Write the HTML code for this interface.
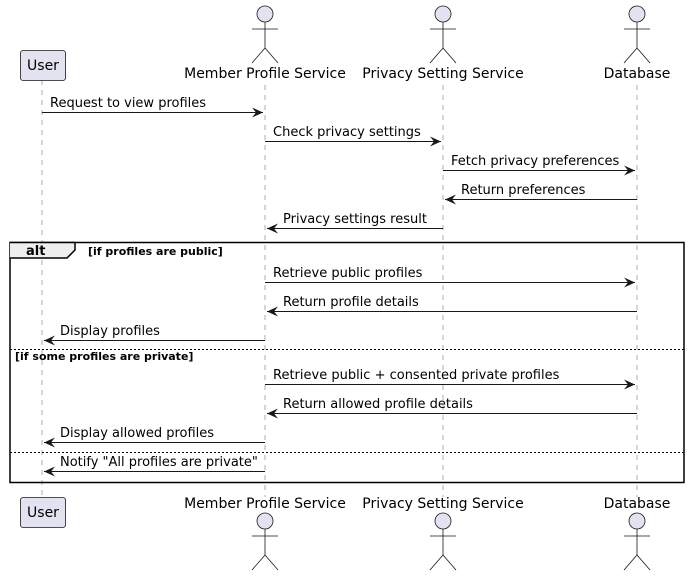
<!DOCTYPE html>
<html><head><meta charset="utf-8"><style>
html,body{margin:0;padding:0;background:#fff;}
svg{display:block;}
text{font-family:"DejaVu Sans","Liberation Sans",sans-serif;}
</style></head><body>
<svg width="689" height="578" viewBox="0 0 689 578" xmlns="http://www.w3.org/2000/svg">
<defs>
<marker id="a" viewBox="0 0 12 10" refX="11" refY="5" markerWidth="12" markerHeight="10" markerUnits="userSpaceOnUse" orient="auto">
<path d="M0,0 L11,5 L0,10 L4,5 Z" fill="#181818"/>
</marker>
</defs>
<g stroke="#777" stroke-width="0.6" stroke-dasharray="5,5">
<line x1="42" y1="80" x2="42" y2="497"/>
<line x1="265" y1="85" x2="265" y2="497"/>
<line x1="443" y1="85" x2="443" y2="497"/>
<line x1="637" y1="85" x2="637" y2="497"/>
</g>
<rect x="20.5" y="50.5" width="45" height="30" rx="2.5" fill="#E2E2F0" stroke="#181818" stroke-width="0.8"/>
<text x="43" y="70" font-size="14" text-anchor="middle" fill="#000">User</text>
<rect x="20.5" y="497.5" width="45" height="30" rx="2.5" fill="#E2E2F0" stroke="#181818" stroke-width="0.8"/>
<text x="43" y="517" font-size="14" text-anchor="middle" fill="#000">User</text>
<g stroke="#181818" stroke-width="0.8" fill="none">
<circle cx="265" cy="14" r="8" fill="#E2E2F0"/><path d="M265,22 V48 M252,29 H278 M252,63 L265,48 L278,63"/>
<circle cx="443" cy="14" r="8" fill="#E2E2F0"/><path d="M443,22 V48 M430,29 H456 M430,63 L443,48 L456,63"/>
<circle cx="637" cy="14" r="8" fill="#E2E2F0"/><path d="M637,22 V48 M624,29 H650 M624,63 L637,48 L650,63"/>
<circle cx="265" cy="521" r="8" fill="#E2E2F0"/><path d="M265,529 V555 M252,536 H278 M252,570 L265,555 L278,570"/>
<circle cx="443" cy="521" r="8" fill="#E2E2F0"/><path d="M443,529 V555 M430,536 H456 M430,570 L443,555 L456,570"/>
<circle cx="637" cy="521" r="8" fill="#E2E2F0"/><path d="M637,529 V555 M624,536 H650 M624,570 L637,555 L650,570"/>
</g>
<g font-size="14" text-anchor="middle" fill="#000">
<text x="265" y="78">Member Profile Service</text>
<text x="443" y="78">Privacy Setting Service</text>
<text x="637" y="78">Database</text>
<text x="265" y="508">Member Profile Service</text>
<text x="443" y="508">Privacy Setting Service</text>
<text x="637" y="508">Database</text>
</g>
<rect x="10" y="242.5" width="674" height="240" fill="none" stroke="#000" stroke-width="1.5"/>
<path d="M10,242.5 H75 V250 L67,258 H10" fill="#eee" stroke="#000" stroke-width="1.5"/>
<text x="26" y="255" font-size="13" font-weight="bold">alt</text>
<text x="88" y="255" font-size="11" font-weight="bold">[if profiles are public]</text>
<line x1="10" y1="349.5" x2="684" y2="349.5" stroke="#000" stroke-width="1" stroke-dasharray="2,2"/>
<text x="15" y="360" font-size="11" font-weight="bold">[if some profiles are private]</text>
<line x1="10" y1="452.5" x2="684" y2="452.5" stroke="#000" stroke-width="1" stroke-dasharray="2,2"/>
<g stroke="#181818" stroke-width="1" marker-end="url(#a)">
<line x1="42" y1="112.5" x2="263" y2="112.5"/>
<line x1="265" y1="141.5" x2="441" y2="141.5"/>
<line x1="443" y1="170.5" x2="635" y2="170.5"/>
<line x1="637" y1="199.5" x2="445" y2="199.5"/>
<line x1="443" y1="228.5" x2="267" y2="228.5"/>
<line x1="265" y1="282.5" x2="635" y2="282.5"/>
<line x1="637" y1="311.5" x2="267" y2="311.5"/>
<line x1="265" y1="340.5" x2="44" y2="340.5"/>
<line x1="265" y1="384.5" x2="635" y2="384.5"/>
<line x1="637" y1="413.5" x2="267" y2="413.5"/>
<line x1="265" y1="442.5" x2="44" y2="442.5"/>
<line x1="265" y1="471.5" x2="44" y2="471.5"/>
</g>
<g font-size="13" fill="#000">
<text x="50" y="107">Request to view profiles</text>
<text x="273" y="136">Check privacy settings</text>
<text x="451" y="165">Fetch privacy preferences</text>
<text x="461" y="194">Return preferences</text>
<text x="283" y="223">Privacy settings result</text>
<text x="273" y="277">Retrieve public profiles</text>
<text x="283" y="306">Return profile details</text>
<text x="60" y="335">Display profiles</text>
<text x="273" y="379">Retrieve public + consented private profiles</text>
<text x="283" y="408">Return allowed profile details</text>
<text x="60" y="437">Display allowed profiles</text>
<text x="60" y="466">Notify "All profiles are private"</text>
</g>
</svg>
</body></html>
